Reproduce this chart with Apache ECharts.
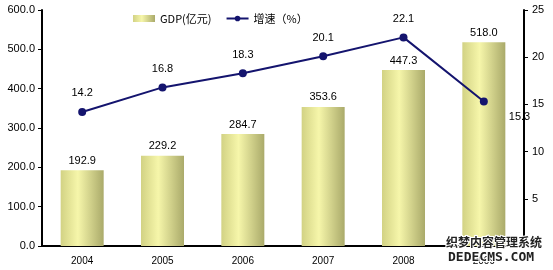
<!DOCTYPE html>
<html>
<head>
<meta charset="utf-8">
<script src="https://cdn.jsdelivr.net/npm/echarts@6/dist/echarts.min.js"></script>
<style>
  html, body { margin: 0; padding: 0; background: #fff; }
  #main { width: 553px; height: 270px; }
</style>
</head>
<body>
<div id="main"></div>
<script>
// 年份
var years = ['2004', '2005', '2006', '2007', '2008', '2009'];
// GDP（亿元）
var gdp = [192.9, 229.2, 284.7, 353.6, 447.3, 518.0];
// 增速（%）
var growth = [14.2, 16.8, 18.3, 20.1, 22.1, 15.3];

var myChart = echarts.init(document.getElementById('main'));

var barColor = new echarts.graphic.LinearGradient(0, 0, 1, 0, [
  { offset: 0, color: '#d2d284' },
  { offset: 0.4, color: '#f6f6aa' },
  { offset: 1, color: '#aaaa6a' }
]);

// 最后一个点的标签放在右下方
var lineData = growth.map(function (v, i) {
  if (i === growth.length - 1) {
    return { value: v, label: { position: [29, 14] } };
  }
  return v;
});

var option = {
  animation: false,
  textStyle: { fontFamily: 'Liberation Sans, Arial, sans-serif' },
  legend: {
    top: 8,
    left: 128,
    itemGap: 14,
    itemWidth: 22,
    itemHeight: 7,
    textStyle: { fontSize: 11, color: '#000', fontFamily: 'Noto Sans CJK SC' },
    data: [
      { name: 'GDP(亿元)', icon: 'rect' },
      { name: '增速（%）' }
    ]
  },
  grid: { left: 42, right: 29, top: 10, bottom: 24 },
  xAxis: {
    type: 'category',
    data: years,
    axisLine: { lineStyle: { color: '#000', width: 2 } },
    axisTick: { inside: true, length: 4, lineStyle: { color: '#000' } },
    axisLabel: { fontSize: 10, color: '#000', margin: 10 }
  },
  yAxis: [
    {
      type: 'value',
      min: 0,
      max: 600,
      interval: 100,
      splitLine: { show: false },
      axisLine: { show: true, lineStyle: { color: '#000', width: 2 } },
      axisTick: { show: true, length: 4, lineStyle: { color: '#000' } },
      axisLabel: {
        fontSize: 11,
        color: '#000',
        margin: 7,
        formatter: function (v) { return v.toFixed(1); }
      }
    },
    {
      type: 'value',
      min: 0,
      max: 25,
      interval: 5,
      splitLine: { show: false },
      axisLine: { show: true, lineStyle: { color: '#000', width: 2 } },
      axisTick: { show: true, length: 4, lineStyle: { color: '#000' } },
      axisLabel: { fontSize: 11, color: '#000', margin: 8, showMinLabel: false }
    }
  ],
  series: [
    {
      name: 'GDP(亿元)',
      type: 'bar',
      data: gdp,
      barWidth: 43,
      itemStyle: { color: barColor },
      label: {
        show: true,
        position: 'top',
        distance: 4,
        fontSize: 11,
        color: '#000',
        formatter: function (p) { return p.value.toFixed(1); }
      }
    },
    {
      name: '增速（%）',
      type: 'line',
      yAxisIndex: 1,
      data: lineData,
      symbol: 'circle',
      symbolSize: 8,
      lineStyle: { color: '#14146e', width: 2 },
      itemStyle: { color: '#14146e' },
      label: {
        show: true,
        position: 'top',
        distance: 9,
        fontSize: 11,
        color: '#000',
        formatter: function (p) { return p.value.toFixed(1); }
      }
    }
  ],
  // 水印
  graphic: [
    {
      type: 'text',
      left: 445,
      top: 235,
      z: 100,
      style: {
        text: '织梦内容管理系统',
        fontSize: 12,
        fontWeight: 'bold',
        fill: '#222',
        stroke: '#fff',
        lineWidth: 2,
        fontFamily: 'Noto Sans CJK SC'
      }
    },
    {
      type: 'text',
      left: 447,
      top: 250,
      z: 100,
      style: {
        text: 'DEDECMS.COM',
        fontSize: 13,
        fontWeight: 'bold',
        fill: '#222',
        stroke: '#fff',
        lineWidth: 2,
        fontFamily: 'DejaVu Sans Mono'
      }
    }
  ]
};

myChart.setOption(option);
</script>
</body>
</html>
